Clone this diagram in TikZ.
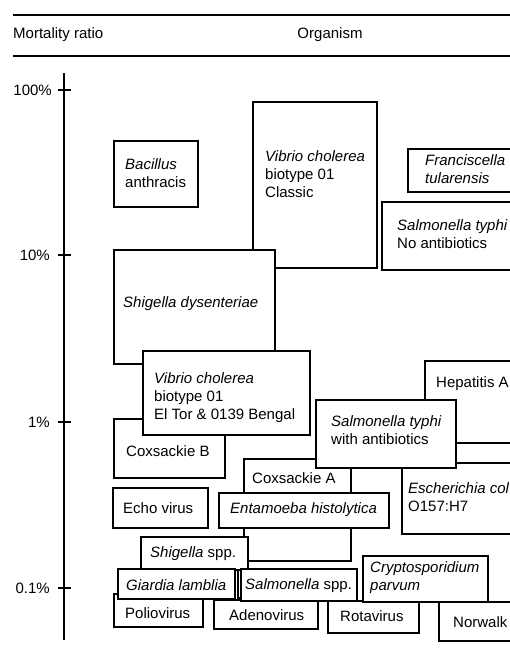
\documentclass[tikz,border=0pt]{standalone}
\usepackage{fontspec}
\setmainfont{Liberation Sans}
\usepackage{xcolor}

\begin{document}
\begin{tikzpicture}[
    x=1pt, y=-1pt,
    box/.style={draw, line width=1.7pt, fill=white, anchor=north west, inner sep=0pt},
    lbl/.style={anchor=west, align=left, inner sep=0pt, font=\fontsize{15}{18}\selectfont},
    tick/.style={anchor=east, inner sep=0pt, font=\fontsize{15}{18}\selectfont},
    rule/.style={line width=1.6pt}
  ]
    \useasboundingbox (0,0) rectangle (510,653);
    \clip (0,0) rectangle (510,653);

    % header
    \draw[rule] (13,15) -- (510,15);
    \node[lbl] (hmr) at (13,35) {Mortality ratio};
    \node[lbl, anchor=center] (horg) at (330,35) {Organism};
    \draw[rule] (13,56) -- (510,56);

    % axis
    \draw[line width=1.9pt] (64,73) -- (64,640);
    \draw[line width=1.6pt] (58,90) -- (71,90) (58,255) -- (71,255)
                            (58,422) -- (71,422) (58,588) -- (71,588);
    \node[tick] (t100) at (52,90)  {100\%};
    \node[tick] (t10)  at (50,255) {10\%};
    \node[tick] (t1)   at (50,422) {1\%};
    \node[tick] (t01)  at (50,588) {0.1\%};

    % high mortality
    \node[box, minimum width=84pt,  minimum height=66pt]  (ba)  at (113,140) {};
    \node[lbl] (ba-t) at (125,173) {\textit{Bacillus}\\anthracis};
    \node[box, minimum width=124pt, minimum height=166pt] (vcc) at (252,101) {};
    \node[lbl] (vcc-t) at (265,174) {\textit{Vibrio cholerea}\\biotype 01\\Classic};
    \node[box, minimum width=120pt, minimum height=43pt]  (ft)  at (407,148) {};
    \node[lbl] (ft-t) at (425,169.5) {\textit{Franciscella}\\\textit{tularensis}};
    \node[box, minimum width=140pt, minimum height=68pt]  (stn) at (381,201) {};
    \node[lbl] (stn-t) at (397,234) {\textit{Salmonella typhi}\\No antibiotics};
    \node[box, minimum width=161pt, minimum height=114pt] (sd)  at (113,249) {};
    \node[lbl] (sd-t) at (123,304) {\textit{Shigella dysenteriae}};

    % around 1%
    \node[box, minimum width=111pt, minimum height=59pt]  (cb)  at (113,418) {};
    \node[lbl] (cb-t) at (126,451) {Coxsackie B};
    \node[box, minimum width=167pt, minimum height=84pt]  (vet) at (142,350) {};
    \node[lbl] (vet-t) at (154,398) {\textit{Vibrio cholerea}\\biotype 01\\El Tor \& 0139 Bengal};
    \node[box, minimum width=100pt, minimum height=82pt]  (ha)  at (424,360) {};
    \node[lbl] (ha-t) at (436,384) {Hepatitis A};
    \node[box, minimum width=120pt, minimum height=71pt]  (ec)  at (401,462) {};
    \node[lbl] (ec-t) at (408,497) {\textit{Escherichia col}\\O157:H7};
    \node[box, minimum width=107pt, minimum height=102pt] (ca)  at (243,458) {};
    \node[lbl] (ca-t) at (252,478) {Coxsackie A};
    \node[box, minimum width=140pt, minimum height=68pt]  (sta) at (315,399) {};
    \node[lbl] (sta-t) at (331,430) {\textit{Salmonella typhi}\\with antibiotics};
    \node[box, minimum width=170pt, minimum height=35pt]  (ent) at (218,492) {};
    \node[lbl] (ent-t) at (230,509.5) {\textit{Entamoeba histolytica}};
    \node[box, minimum width=95pt,  minimum height=40pt]  (ev)  at (112,487) {};
    \node[lbl] (ev-t) at (123,508) {Echo virus};
    \node[box, minimum width=107pt, minimum height=33pt]  (ssp) at (140,536) {};
    \node[lbl] (ssp-t) at (150,554) {\textit{Shigella} spp.};

    % around 0.1%
    \node[box, minimum width=89pt,  minimum height=33pt]  (pv)  at (113,593) {};
    \node[lbl] (pv-t) at (125,613) {Poliovirus};
    \node[box, minimum width=104pt, minimum height=29pt]  (ad)  at (213,599) {};
    \node[lbl] (ad-t) at (229,615) {Adenovirus};
    \node[box, minimum width=91pt,  minimum height=32pt]  (rv)  at (327,600) {};
    \node[lbl] (rv-t) at (340,616) {Rotavirus};
    \node[box, minimum width=90pt,  minimum height=39pt]  (nw)  at (438,601) {};
    \node[lbl] (nw-t) at (453,622) {Norwalk};
    \node[box, minimum width=117pt, minimum height=30pt]  (gl)  at (117,568) {};
    \node[lbl] (gl-t) at (126,585) {\textit{Giardia lamblia}};
    \node[box, minimum width=60pt,  minimum height=28pt]  (bk)  at (237,569) {};
    \node[box, minimum width=116pt, minimum height=32pt]  (sspp) at (240,568) {};
    \node[lbl] (sspp-t) at (245,586) {\textit{Salmonella} spp.};
    \node[box, minimum width=125pt, minimum height=46pt]  (cp)  at (362,555) {};
    \node[lbl] (cp-t) at (370,577.5) {\textit{Cryptosporidium}\\\textit{parvum}};
  \end{tikzpicture}
\end{document}
